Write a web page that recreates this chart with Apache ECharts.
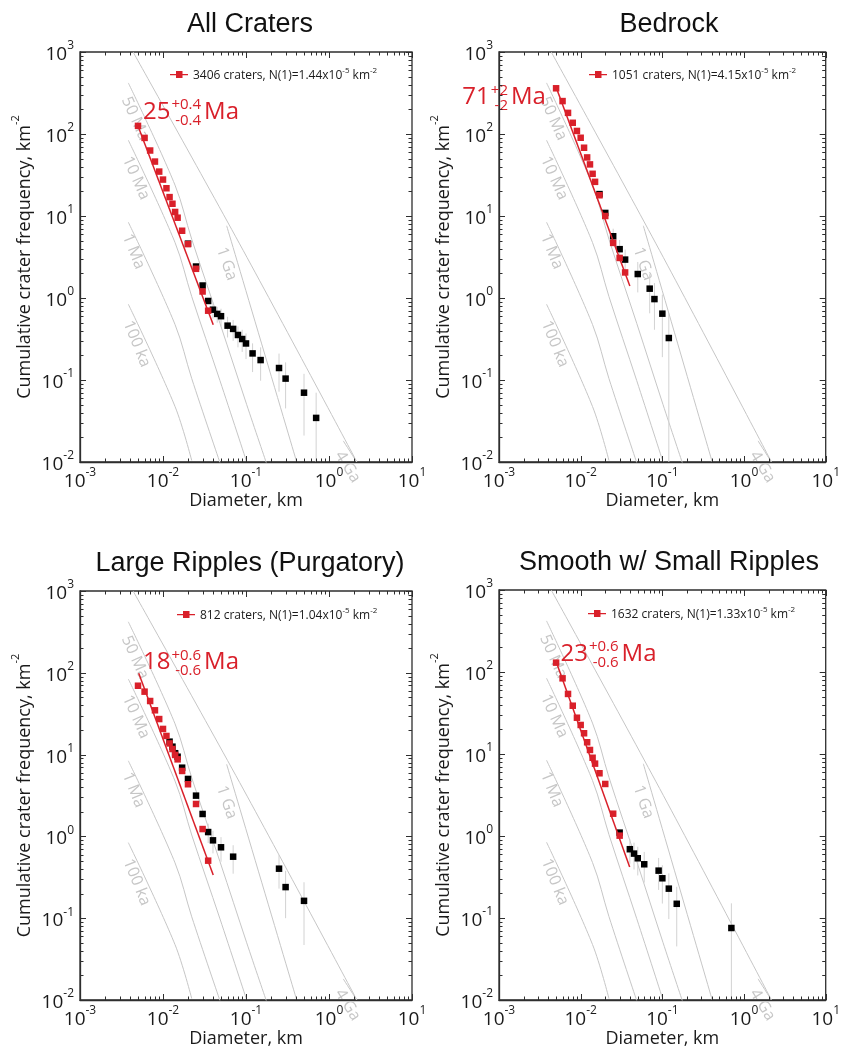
<!DOCTYPE html>
<html>
<head>
<meta charset="utf-8">
<title>Crater size-frequency distributions</title>
<script src="https://cdn.jsdelivr.net/npm/echarts@6/dist/echarts.min.js"></script>
<style>
  html, body { margin: 0; padding: 0; background: #fff; }
  #chart { width: 843px; height: 1051px; }
</style>
</head>
<body>
<div id="chart"></div>
<script>
// ---- data (D in km, N in km^-2) ----
var panelTitles = ['All Craters', 'Bedrock', 'Large Ripples (Purgatory)', 'Smooth w/ Small Ripples'];

var xDecades = [-3, -2, -1, 0, 1];
var yDecades = [-2, -1, 0, 1, 2, 3];

// isochrons, identical in every panel
var iso50Ma = [[0.00382, 420], [0.01396, 23.8], [0.0222, 5.2], [0.0486, 0.49], [0.102, 0.05], [0.1775, 0.0095]];
var iso10Ma = [[0.00382, 84], [0.01396, 4.75], [0.0222, 1.04], [0.0486, 0.098], [0.102, 0.01]];
var iso1Ma = [[0.00382, 8.4], [0.01396, 0.475], [0.0222, 0.104], [0.0486, 0.0098]];
var iso100ka = [[0.00382, 0.84], [0.01396, 0.0475], [0.0222, 0.0104]];
var iso1Ga = [[0.0585, 7.6], [0.408, 0.01]];
var isoSat = [[0.00436, 1000], [0.0927, 3.79], [2.17, 0.01]];
var iso4Ga = [[1.486, 0.0181], [2.16, 0.01]];

var isoLabelText = ['50 Ma', '10 Ma', '1 Ma', '100 ka', '1 Ga', '4 Ga'];
var isoLabelD = [0.0046, 0.00473, 0.00442, 0.00482, 0.0585, 1.68];
var isoLabelN = [154, 29, 3.69, 0.275, 2.61, 0.0087];

// All Craters
var redD1 = [0.005, 0.006, 0.007, 0.008, 0.009, 0.010, 0.011, 0.012, 0.013, 0.014, 0.015, 0.017, 0.020, 0.025, 0.030, 0.035];
var redN1 = [125.6, 89.6, 62.9, 46.1, 34.8, 27.8, 21.8, 17.0, 14.1, 11.2, 9.53, 6.61, 4.54, 2.27, 1.20, 0.70];
var blackD1 = [0.020, 0.025, 0.030, 0.035, 0.040, 0.045, 0.050, 0.060, 0.070, 0.080, 0.090, 0.100, 0.120, 0.150, 0.250, 0.300, 0.500, 0.700];
var blackN1 = [4.6, 2.42, 1.42, 0.92, 0.72, 0.64, 0.60, 0.46, 0.42, 0.354, 0.316, 0.279, 0.211, 0.175, 0.140, 0.104, 0.070, 0.0345];
var errD1 = [0.040, 0.045, 0.050, 0.060, 0.070, 0.080, 0.090, 0.100, 0.120, 0.150, 0.250, 0.300, 0.500, 0.700];
var errLo1 = [0.56, 0.50, 0.45, 0.33, 0.30, 0.25, 0.22, 0.18, 0.125, 0.098, 0.072, 0.045, 0.021, 0.01];
var errHi1 = [0.88, 0.78, 0.74, 0.59, 0.54, 0.45, 0.41, 0.37, 0.28, 0.25, 0.21, 0.164, 0.119, 0.070];
var fit1 = [[0.005, 125], [0.0403, 0.473]];

// Bedrock
var redD2 = [0.005, 0.006, 0.007, 0.008, 0.009, 0.010, 0.011, 0.012, 0.013, 0.014, 0.015, 0.017, 0.020, 0.025, 0.030, 0.035];
var redN2 = [361, 252, 181, 137, 109, 90, 68, 51.8, 42.6, 32.7, 26.1, 17.9, 10.0, 4.70, 3.08, 2.05];
var blackD2 = [0.017, 0.020, 0.025, 0.030, 0.035, 0.050, 0.070, 0.080, 0.100, 0.120];
var blackN2 = [18.5, 10.9, 5.66, 3.94, 2.94, 1.96, 1.30, 0.97, 0.644, 0.325];
var errD2 = [0.025, 0.030, 0.035, 0.050, 0.070, 0.080, 0.100, 0.120];
var errLo2 = [4.3, 2.8, 1.96, 1.17, 0.65, 0.41, 0.19, 0.01];
var errHi2 = [7.0, 5.1, 3.9, 2.75, 1.95, 1.52, 1.10, 0.65];
var fit2 = [[0.00494, 384], [0.040, 1.40]];

// Large Ripples (Purgatory)
var redD3 = [0.005, 0.006, 0.007, 0.008, 0.009, 0.010, 0.011, 0.012, 0.013, 0.014, 0.015, 0.017, 0.020, 0.025, 0.030, 0.035];
var redN3 = [69.5, 58.8, 45.2, 34.8, 27.2, 20.6, 16.9, 13.7, 11.7, 9.9, 8.75, 6.31, 4.34, 2.49, 1.23, 0.505];
var blackD3 = [0.012, 0.013, 0.014, 0.015, 0.017, 0.020, 0.025, 0.030, 0.035, 0.040, 0.050, 0.070, 0.250, 0.300, 0.500];
var blackN3 = [14.4, 12.5, 10.4, 9.42, 6.92, 5.04, 3.15, 1.88, 1.13, 0.895, 0.736, 0.565, 0.403, 0.240, 0.163];
var errD3 = [0.035, 0.040, 0.050, 0.070, 0.250, 0.300, 0.500];
var errLo3 = [0.83, 0.62, 0.49, 0.35, 0.23, 0.10, 0.047];
var errHi3 = [1.43, 1.17, 0.98, 0.78, 0.59, 0.38, 0.275];
var fit3 = [[0.0051, 98.6], [0.0403, 0.337]];

// Smooth w/ Small Ripples
var redD4 = [0.005, 0.006, 0.007, 0.008, 0.009, 0.010, 0.011, 0.012, 0.013, 0.014, 0.015, 0.017, 0.020, 0.025, 0.030];
var redN4 = [130, 83.7, 54, 38.8, 27.7, 22.6, 17.9, 13.9, 11.2, 9.0, 7.63, 5.82, 4.31, 1.87, 1.01];
var blackD4 = [0.030, 0.040, 0.045, 0.050, 0.060, 0.090, 0.100, 0.120, 0.150, 0.700];
var blackN4 = [1.10, 0.69, 0.61, 0.535, 0.452, 0.378, 0.305, 0.228, 0.149, 0.0755];
var errD4 = [0.040, 0.045, 0.050, 0.060, 0.090, 0.100, 0.120, 0.150, 0.700];
var errLo4 = [0.46, 0.39, 0.33, 0.27, 0.22, 0.15, 0.097, 0.045, 0.01];
var errHi4 = [0.92, 0.83, 0.74, 0.64, 0.54, 0.44, 0.35, 0.24, 0.151];
var fit4 = [[0.005, 134], [0.0398, 0.42]];

var craterCount = ['3406', '1051', '812', '1632'];
var n1Value = ['1.44', '4.15', '1.04', '1.33'];
var ageValue = ['25', '71', '18', '23'];
var agePlus = ['+0.4', '+2', '+0.6', '+0.6'];
var ageMinus = ['-0.4', '-2', '-0.6', '-0.6'];
var ageAnchor = [[0.00574, 185], [0.000356, 278], [0.00574, 134], [0.00566, 166]];

// ---- styling / layout ----
var FONT = 'Open Sans';
var RED = '#d9202a';
var GRAY = '#c6c6c6';
var FRAME = '#2e2e2e';
var LEGEND_ICON = 'path://M0,3h18v1.3h-18z M6,0h6.5v7h-6.5z';

var grids = [
  {left: 80, top: 52, width: 332, height: 410},
  {left: 499, top: 52, width: 332, height: 410},
  {left: 80, top: 591, width: 332, height: 409},
  {left: 499, top: 590, width: 332, height: 410}
];
var legendPos = [[170, 67], [589, 67], [177, 607], [588, 606]];

var reds = [[redD1, redN1], [redD2, redN2], [redD3, redN3], [redD4, redN4]];
var blacks = [[blackD1, blackN1], [blackD2, blackN2], [blackD3, blackN3], [blackD4, blackN4]];
var errs = [[errD1, errLo1, errHi1], [errD2, errLo2, errHi2], [errD3, errLo3, errHi3], [errD4, errLo4, errHi4]];
var fits = [fit1, fit2, fit3, fit4];
var isochrons = [iso50Ma, iso10Ma, iso1Ma, iso100ka, iso1Ga, isoSat, iso4Ga];
var isoLabelAngle = [-66, -66, -68, -68, -71, -58];

var fitNames = craterCount.map(function (c, i) {
  return c + ' craters, N(1)=' + n1Value[i] + 'x10-5 km-2';
});

var measureCtx = document.createElement('canvas').getContext('2d');
function textWidth(s, font) {
  measureCtx.font = font;
  return measureCtx.measureText(s).width;
}

function txt(s, x, y, font, align, color, rot) {
  return {
    type: 'text', x: x, y: y, rotation: rot || 0,
    style: {text: s, font: font, fill: color, align: align, textAlign: align,
      verticalAlign: 'middle', textVerticalAlign: 'middle'}
  };
}

var tickRich = {
  b: {fontFamily: FONT, fontSize: 19, color: '#1a1a1a', lineHeight: 24, verticalAlign: 'bottom'},
  s: {fontFamily: FONT, fontSize: 12, color: '#1a1a1a', lineHeight: 12, verticalAlign: 'top'}
};
function powLabel(v) {
  var e = Math.round(Math.log(v) / Math.LN10);
  return '{b|10}{s|' + e + '}';
}

// minor + major tick marks on all four sides
var xTicks = [], yTicks = [];
xDecades.forEach(function (e) {
  for (var m = 1; m <= (e === 1 ? 1 : 9); m++) xTicks.push([m * Math.pow(10, e), m === 1 ? 1 : 0]);
});
yDecades.forEach(function (e) {
  for (var m = 1; m <= (e === 3 ? 1 : 9); m++) yTicks.push([m * Math.pow(10, e), m === 1 ? 1 : 0]);
});

function tickSeries(i) {
  var data = [];
  xTicks.forEach(function (t) { data.push([t[0], 1, 0, t[1]]); });
  yTicks.forEach(function (t) { data.push([1, t[0], 1, t[1]]); });
  return {
    type: 'custom', xAxisIndex: i, yAxisIndex: i, silent: true, z: 10,
    data: data, encode: {x: 0, y: 1},
    renderItem: function (params, api) {
      var cs = params.coordSys;
      var len = api.value(3) ? 6 : 3.5;
      var st = {stroke: FRAME, lineWidth: 1};
      if (api.value(2) === 0) {
        var px = Math.round(api.coord([api.value(0), 1])[0]) + 0.5;
        return {type: 'group', children: [
          {type: 'line', shape: {x1: px, y1: cs.y + cs.height, x2: px, y2: cs.y + cs.height - len}, style: st},
          {type: 'line', shape: {x1: px, y1: cs.y, x2: px, y2: cs.y + len}, style: st}
        ]};
      }
      var py = Math.round(api.coord([1, api.value(1)])[1]) + 0.5;
      return {type: 'group', children: [
        {type: 'line', shape: {x1: cs.x, y1: py, x2: cs.x + len, y2: py}, style: st},
        {type: 'line', shape: {x1: cs.x + cs.width, y1: py, x2: cs.x + cs.width - len, y2: py}, style: st}
      ]};
    }
  };
}

var xAxes = [], yAxes = [], series = [], legends = [], titles = [];

grids.forEach(function (g, i) {
  titles.push({
    text: panelTitles[i], left: g.left + g.width / 2 - 1, top: g.top - 46, textAlign: 'center',
    textStyle: {fontFamily: 'Liberation Sans', fontWeight: 'normal', fontSize: 27, color: '#111'}
  });

  xAxes.push({
    type: 'log', logBase: 10, gridIndex: i, min: 0.001, max: 10,
    name: 'Diameter, km', nameLocation: 'middle', nameGap: 18,
    nameTextStyle: {fontFamily: FONT, fontSize: 18, color: '#1a1a1a'},
    axisLine: {show: true, lineStyle: {color: FRAME, width: 1.3}},
    axisTick: {show: false}, splitLine: {show: false}, minorTick: {show: false},
    axisLabel: {margin: 5, formatter: powLabel, rich: tickRich}
  });
  yAxes.push({
    type: 'log', logBase: 10, gridIndex: i, min: 0.01, max: 1000,
    name: '{n|Cumulative crater frequency, km}{s|-2}', nameLocation: 'middle', nameGap: 46, nameRotate: 90,
    nameTextStyle: {rich: {
      n: {fontFamily: FONT, fontSize: 18, color: '#1a1a1a', lineHeight: 24, verticalAlign: 'bottom'},
      s: {fontFamily: FONT, fontSize: 11, color: '#1a1a1a', lineHeight: 12, verticalAlign: 'top'}
    }},
    axisLine: {show: true, lineStyle: {color: FRAME, width: 1.3}},
    axisTick: {show: false}, splitLine: {show: false}, minorTick: {show: false},
    axisLabel: {margin: 6, formatter: powLabel, rich: tickRich}
  });

  // isochrons
  isochrons.forEach(function (line) {
    series.push({
      type: 'line', xAxisIndex: i, yAxisIndex: i, data: line, symbol: 'none', silent: true, z: 1,
      smooth: 0.35, lineStyle: {color: GRAY, width: 1}
    });
  });
  series.push({
    type: 'custom', xAxisIndex: i, yAxisIndex: i, silent: true, z: 2,
    data: isoLabelText.map(function (t, k) { return [isoLabelD[k], isoLabelN[k], k]; }),
    encode: {x: 0, y: 1},
    renderItem: function (params, api) {
      var p = api.coord([api.value(0), api.value(1)]);
      var k = api.value(2);
      return txt(isoLabelText[k], p[0], p[1], '16px "' + FONT + '"', 'center', GRAY, isoLabelAngle[k] * Math.PI / 180);
    }
  });

  // error bars
  var e = errs[i];
  series.push({
    type: 'custom', xAxisIndex: i, yAxisIndex: i, silent: true, z: 3,
    data: e[0].map(function (d, k) { return [d, e[1][k], e[2][k]]; }),
    encode: {x: 0, y: [1, 2]},
    renderItem: function (params, api) {
      var lo = api.coord([api.value(0), api.value(1)]);
      var hi = api.coord([api.value(0), api.value(2)]);
      return {type: 'line', shape: {x1: lo[0], y1: lo[1], x2: hi[0], y2: hi[1]},
        style: {stroke: '#d2d2d2', lineWidth: 1}};
    }
  });

  // black (all data) and red (fit range) markers
  series.push({
    type: 'scatter', xAxisIndex: i, yAxisIndex: i, symbol: 'rect', symbolSize: 6.5, z: 4,
    data: blacks[i][0].map(function (d, k) { return [d, blacks[i][1][k]]; }),
    itemStyle: {color: '#000', opacity: 1}
  });
  series.push({
    type: 'scatter', xAxisIndex: i, yAxisIndex: i, symbol: 'rect', symbolSize: 6.5, z: 5,
    data: reds[i][0].map(function (d, k) { return [d, reds[i][1][k]]; }),
    itemStyle: {color: RED, opacity: 1}
  });
  series.push({
    type: 'line', name: fitNames[i], xAxisIndex: i, yAxisIndex: i, data: fits[i], symbol: 'none', z: 6,
    lineStyle: {color: RED, width: 1.5}, itemStyle: {color: RED}
  });

  // model age label
  series.push({
    type: 'custom', xAxisIndex: i, yAxisIndex: i, silent: true, z: 9,
    data: [ageAnchor[i]], encode: {x: 0, y: 1},
    renderItem: function (params, api) {
      var p = api.coord([api.value(0), api.value(1)]);
      var big = '24px "' + FONT + '"', small = '15px "' + FONT + '"';
      var xs = p[0] + textWidth(ageValue[i], big) + 1;
      var xe = xs + Math.max(textWidth(agePlus[i], small), textWidth(ageMinus[i], small));
      return {type: 'group', children: [
        txt(ageValue[i], p[0], p[1], big, 'left', RED),
        txt(agePlus[i], xe, p[1] - 7, small, 'right', RED),
        txt(ageMinus[i], xe, p[1] + 8.5, small, 'right', RED),
        txt('Ma', xe + 3, p[1], big, 'left', RED)
      ]};
    }
  });

  series.push(tickSeries(i));

  legends.push({
    data: [{name: fitNames[i], icon: LEGEND_ICON}],
    left: legendPos[i][0], top: legendPos[i][1], itemWidth: 18, itemHeight: 7, padding: 0,
    selectedMode: false,
    formatter: function () {
      return '{t|' + craterCount[i] + ' craters, N(1)=' + n1Value[i] + 'x10}{s|-5}{t| km}{s|-2}';
    },
    textStyle: {rich: {
      t: {fontFamily: FONT, fontSize: 12, color: '#1a1a1a', lineHeight: 15, verticalAlign: 'bottom'},
      s: {fontFamily: FONT, fontSize: 8, color: '#1a1a1a', lineHeight: 9, verticalAlign: 'top'}
    }}
  });
});

var chart = echarts.init(document.getElementById('chart'));
chart.setOption({
  backgroundColor: '#fff',
  animation: false,
  title: titles,
  legend: legends,
  grid: grids.map(function (g) {
    return {left: g.left, top: g.top, width: g.width, height: g.height, show: true,
      borderColor: FRAME, borderWidth: 1.3, backgroundColor: 'transparent'};
  }),
  xAxis: xAxes,
  yAxis: yAxes,
  series: series
});

window.addEventListener('resize', function () {
  chart.resize();
});
</script>
</body>
</html>
